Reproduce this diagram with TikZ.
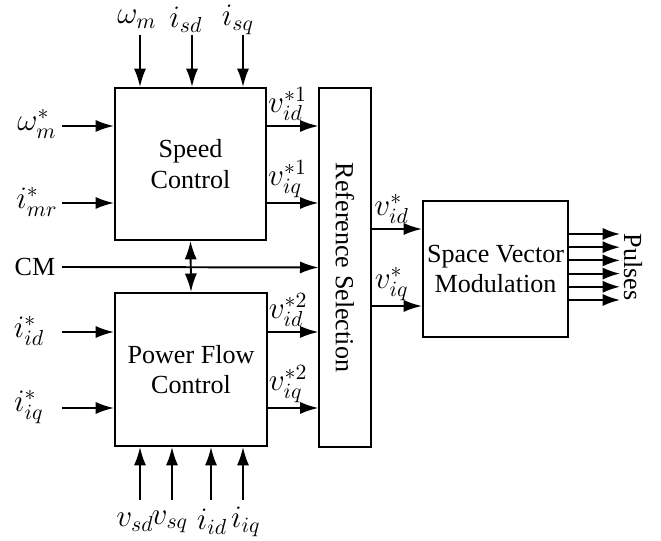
\documentclass[tikz,border=0pt]{standalone}
\usepackage{fontspec}
\setmainfont{Liberation Serif}
\usetikzlibrary{arrows.meta}

\begin{document}
\begin{tikzpicture}[
  x=0.46pt, y=0.46pt,
  every node/.style={font=\large},
  sig/.style={font=\Large, inner sep=2pt},
  block/.style={rectangle, draw, line width=0.9pt, align=center, inner sep=1pt},
  arr/.style={-{Latex[length=8.5pt, width=5.6pt]}, line width=0.9pt},
  darr/.style={{Latex[length=8.5pt, width=5.6pt]}-{Latex[length=8.5pt, width=5.6pt]}, line width=0.9pt},
  parr/.style={-{Latex[length=8pt, width=5.6pt]}, line width=0.9pt}
]
\useasboundingbox (0,0) rectangle (661,541);

% Blocks, placed at the centres measured on the layout (y counted upward).
\node[block, minimum width=69.5pt, minimum height=69.9pt] (SC) at (190.5,377) {Speed\\Control};
\node[block, minimum width=69.9pt, minimum height=70.4pt] (PF) at (191,171.5) {Power Flow\\Control};
\node[block, minimum width=23.5pt, minimum height=165.1pt] (RS) at (345,273.5)
  {\rotatebox{-90}{Reference Selection}};
\node[block, minimum width=66.7pt, minimum height=62.6pt] (SVM) at (495.5,272) {Space Vector\\Modulation};

% Rows of the horizontal signals.
\coordinate (r1) at (0,415);
\coordinate (r2) at (0,338);
\coordinate (r4) at (0,209);
\coordinate (r5) at (0,133);
\coordinate (r6) at (0,312);
\coordinate (r7) at (0,235);

% Measured signals into the speed controller.
\coordinate (wm) at (140,506);
\coordinate (isd) at (192,506);
\coordinate (isq) at (243,506);
\node[sig] (lwm) at (137,522) {$\omega_m$};
\node[sig] (lisd) at (186,521) {$i_{sd}$};
\node[sig] (lisq) at (238,521) {$i_{sq}$};
\foreach \c in {wm,isd,isq}
  \draw[arr] (\c) -- (\c |- SC.north);

% References on the left.
\coordinate (wref) at (62,415);
\coordinate (imr) at (62,338);
\coordinate (cm) at (62,274);
\coordinate (iid) at (62,209);
\coordinate (iiq) at (62,133);
\node[sig] (lwref) at (37,417) {$\omega_m^*$};
\node[sig] (limr) at (37,339) {$i_{mr}^*$};
\node (lcm) at (35,274) {CM};
\node[sig] (liid) at (29,210) {$i_{id}^*$};
\node[sig] (liiq) at (29,134) {$i_{iq}^*$};
\draw[arr] (wref) -- (SC.west |- wref);
\draw[arr] (imr) -- (SC.west |- imr);
\draw[arr] (cm) -- (RS.west);
\draw[arr] (iid) -- (PF.west |- iid);
\draw[arr] (iiq) -- (PF.west |- iiq);

\draw[darr] (SC.south) -- (PF.north);

% Measured signals into the power flow controller.
\coordinate (vsd) at (140,41);
\coordinate (vsq) at (172,41);
\coordinate (bid) at (211,41);
\coordinate (biq) at (243,41);
\node[sig] (lvsd) at (135,19) {$v_{sd}$};
\node[sig] (lvsq) at (170,19) {$v_{sq}$};
\node[sig] (lbid) at (212,19) {$i_{id}$};
\node[sig] (lbiq) at (246,19) {$i_{iq}$};
\foreach \c in {vsd,vsq,bid,biq}
  \draw[arr] (\c) -- (\c |- PF.south);

% Controller outputs to the selection.
\draw[arr] (SC.east |- r1) -- node[sig, above, pos=0.4] {$v_{id}^{*1}$} (RS.west |- r1);
\draw[arr] (SC.east |- r2) -- node[sig, above, pos=0.4] {$v_{iq}^{*1}$} (RS.west |- r2);
\draw[arr] (PF.east |- r4) -- node[sig, above, pos=0.4] {$v_{id}^{*2}$} (RS.west |- r4);
\draw[arr] (PF.east |- r5) -- node[sig, above, pos=0.4] {$v_{iq}^{*2}$} (RS.west |- r5);

\draw[arr] (RS.east |- r6) -- node[sig, above, pos=0.4] {$v_{id}^*$} (SVM.west |- r6);
\draw[arr] (RS.east |- r7) -- node[sig, above, pos=0.4] {$v_{iq}^*$} (SVM.west |- r7);

% Gate pulses.
\foreach \k in {0,...,5} {
  \coordinate (p\k) at (620,{307-13.2*\k});
  \draw[parr] (SVM.east |- p\k) -- (p\k);
}
\node[rotate=-90] (pul) at (633,274) {Pulses};

\end{tikzpicture}
\end{document}
